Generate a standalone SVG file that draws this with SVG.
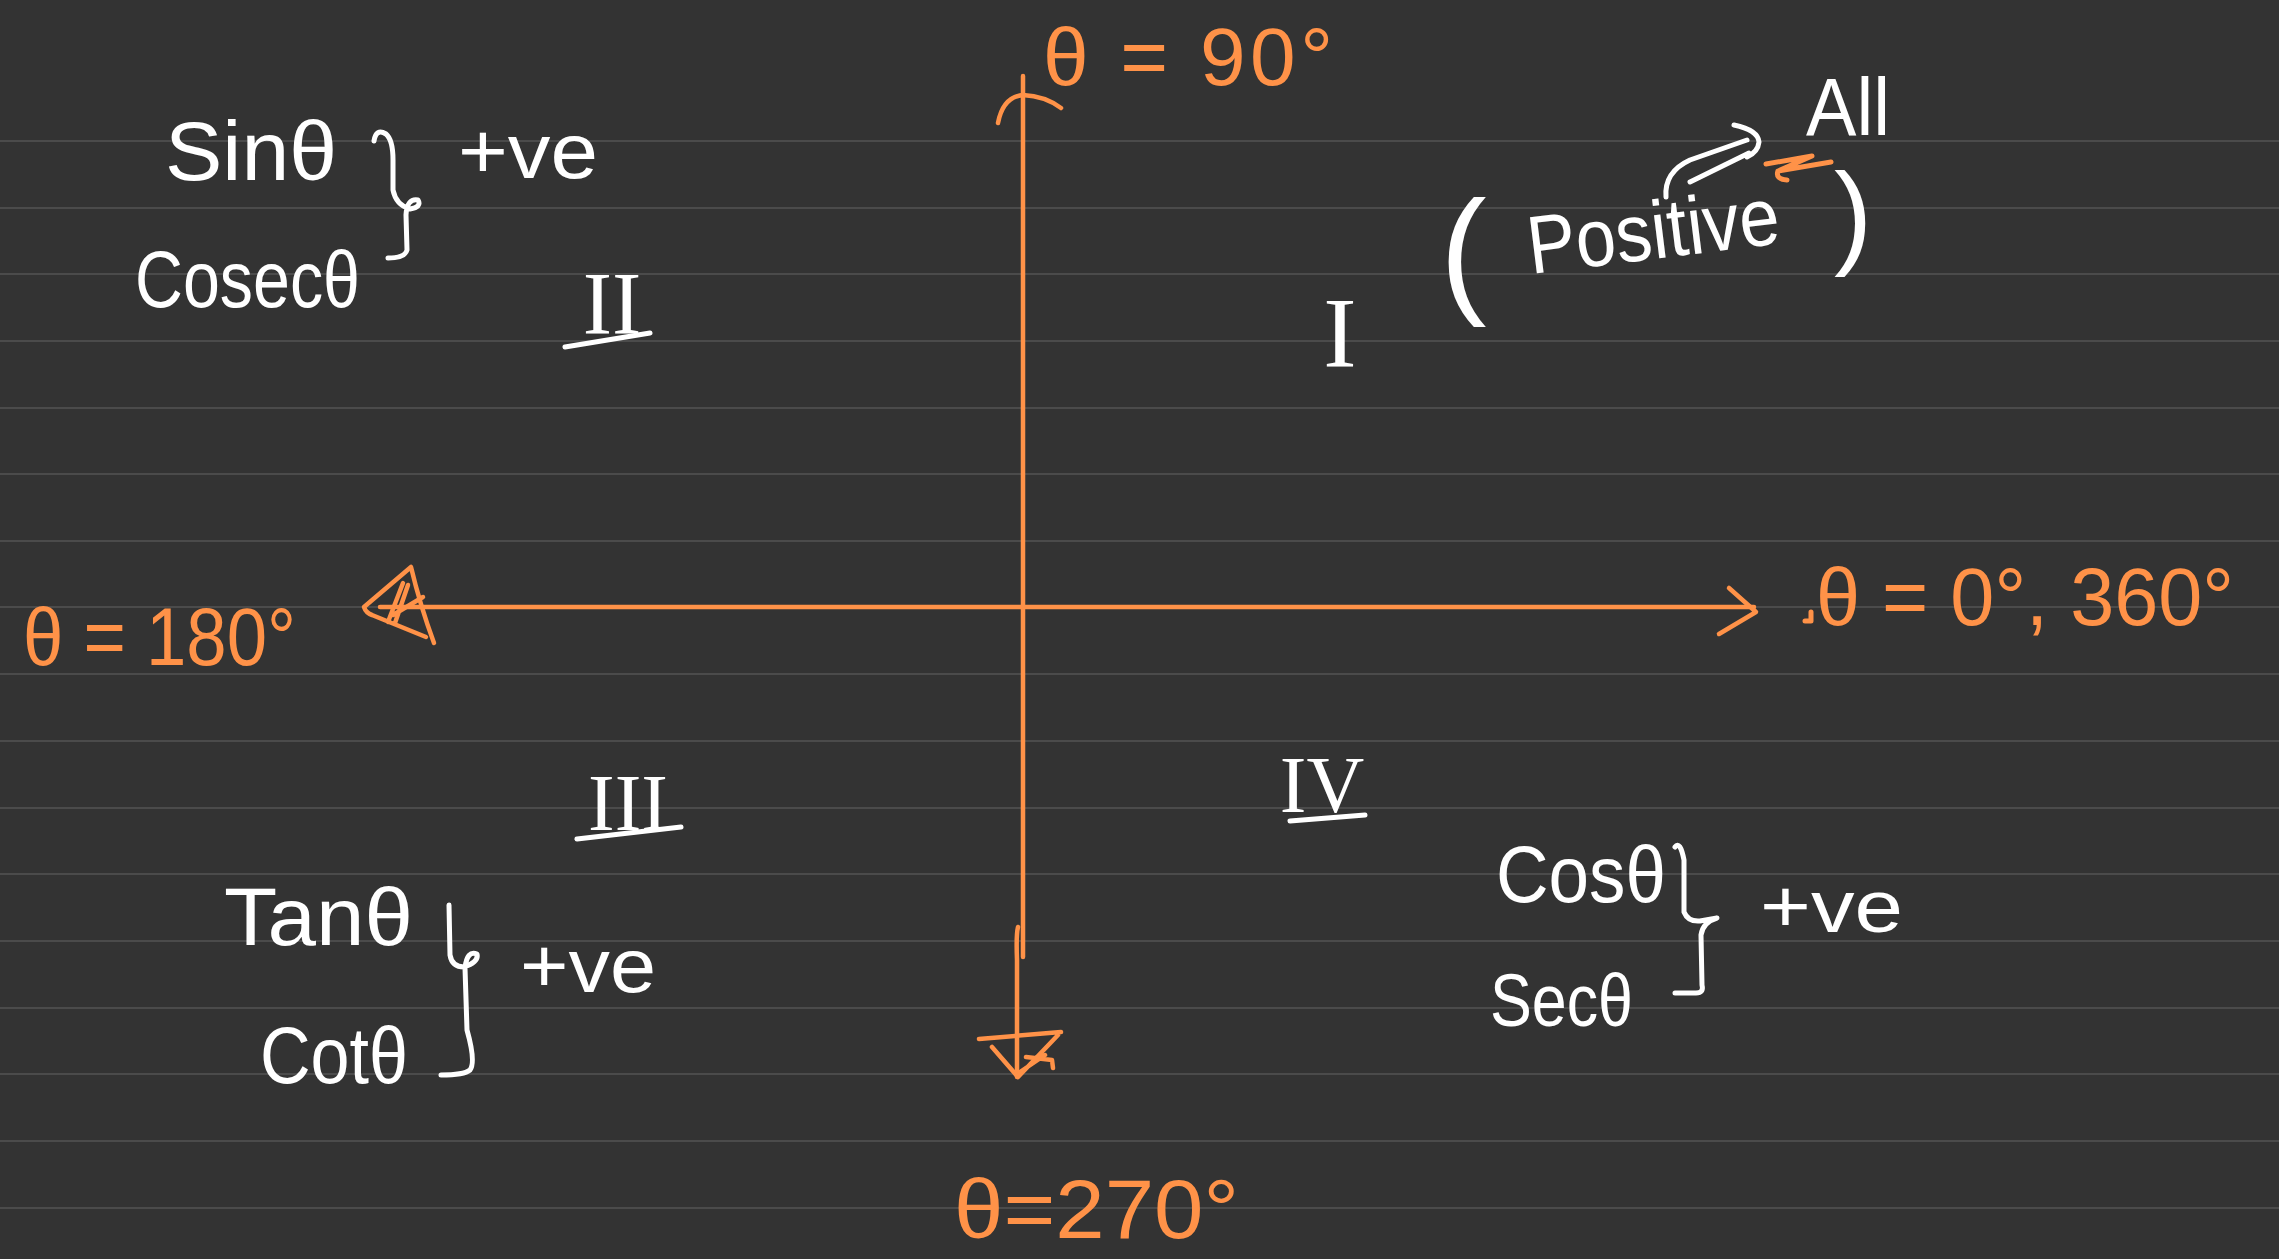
<svg xmlns="http://www.w3.org/2000/svg" width="2279" height="1259" viewBox="0 0 2279 1259">
<style>
.bg{fill:#333333}
.rule{stroke:#4b4b4b;stroke-width:2}
.w{fill:#ffffff;font-family:"Liberation Sans",Arial,sans-serif}
.o{fill:#ff9248;font-family:"Liberation Sans",Arial,sans-serif}
.rn{fill:#ffffff;font-family:"Liberation Serif","Times New Roman",serif}
.ws{fill:none;stroke:#ffffff;stroke-width:5;stroke-linecap:round;stroke-linejoin:round}
.os{fill:none;stroke:#ff9248;stroke-width:5;stroke-linecap:round;stroke-linejoin:round}
.axis{fill:none;stroke:#ff9248;stroke-width:4.5;stroke-linecap:round;stroke-linejoin:round}
</style>
<rect class="bg" x="0" y="0" width="2279" height="1259"/>
<g id="ruling">
<line class="rule" x1="0" y1="141" x2="2279" y2="141"/>
<line class="rule" x1="0" y1="208" x2="2279" y2="208"/>
<line class="rule" x1="0" y1="274" x2="2279" y2="274"/>
<line class="rule" x1="0" y1="341" x2="2279" y2="341"/>
<line class="rule" x1="0" y1="408" x2="2279" y2="408"/>
<line class="rule" x1="0" y1="474" x2="2279" y2="474"/>
<line class="rule" x1="0" y1="541" x2="2279" y2="541"/>
<line class="rule" x1="0" y1="607" x2="2279" y2="607"/>
<line class="rule" x1="0" y1="674" x2="2279" y2="674"/>
<line class="rule" x1="0" y1="741" x2="2279" y2="741"/>
<line class="rule" x1="0" y1="808" x2="2279" y2="808"/>
<line class="rule" x1="0" y1="874" x2="2279" y2="874"/>
<line class="rule" x1="0" y1="941" x2="2279" y2="941"/>
<line class="rule" x1="0" y1="1008" x2="2279" y2="1008"/>
<line class="rule" x1="0" y1="1074" x2="2279" y2="1074"/>
<line class="rule" x1="0" y1="1141" x2="2279" y2="1141"/>
<line class="rule" x1="0" y1="1208" x2="2279" y2="1208"/>
</g>
<g id="connectors">
<path class="axis" d="M380,607 L1754,607"/>
<path class="axis" d="M1729,588 L1756,612 L1719,634"/>
<path class="axis" d="M411,567 L364,607 Q366,613 372,615 L426,637 M411,567 Q420,605 434,643 M388,622 L403,583 M395,623 L408,585 M393,615 L423,597"/>
<path class="axis" d="M1023,76 L1023,957"/>
<path class="axis" d="M998,123 Q1003,97 1023,95 Q1045,96 1061,108"/>
<path class="axis" d="M1018,927 Q1016,935 1017,960 L1017,1077"/>
<path class="axis" d="M979,1039 L1061,1032 M992,1047 L1018,1077 L1058,1035 M1026,1057 L1052,1060 L1053,1068 M1020,1072 L1045,1055"/>
<path class="ws" d="M1666,197 Q1664,172 1690,160 L1747,140 M1690,182 L1749,153 M1734,125 Q1758,130 1759,142 Q1758,152 1747,157"/>
<path class="ws" d="M374,141 Q376,128 386,134 Q393,140 393,160 L393,190 Q396,205 410,209 Q422,207 418,200 Q407,198 406,215 L407,250 Q405,258 388,258"/>
<path class="ws" d="M449,905 L450,955 Q452,967 464,967 Q479,962 477,954 Q467,950 465,968 L467,1030 Q476,1062 470,1070 Q464,1075 441,1075"/>
<path class="ws" d="M1675,847 Q1680,840 1684,860 L1684,912 Q1688,922 1700,921 L1717,918 Q1703,922 1701,935 L1702,985 Q1704,993 1696,993 L1675,993"/>
</g>
<g id="label-sin"><text class="w" x="165" y="180" font-size="84" textLength="172" lengthAdjust="spacingAndGlyphs">Sinθ</text></g>
<g id="label-cosec"><text class="w" x="135" y="307" font-size="80" textLength="225" lengthAdjust="spacingAndGlyphs">Cosecθ</text></g>
<g id="label-pve-1"><text class="w" x="458" y="178" font-size="78" textLength="140" lengthAdjust="spacingAndGlyphs">+ve</text></g>
<g id="quadrant-2"><text class="rn" x="612" y="333" font-size="88" text-anchor="middle">II</text><path class="ws" d="M565,347 L650,333"/></g>
<g id="quadrant-1"><text class="rn" x="1340" y="366" font-size="100" text-anchor="middle">I</text></g>
<g id="label-positive">
<text class="w" x="1440" y="298" font-size="140">(</text>
<text class="w" x="1531" y="274" font-size="82" textLength="253" lengthAdjust="spacingAndGlyphs" transform="rotate(-7 1531 274)">Positive</text>
<text class="w" x="1834" y="253" font-size="115">)</text>
</g>
<g id="label-all"><text class="w" x="1806" y="135" font-size="82" textLength="84" lengthAdjust="spacingAndGlyphs">All</text>
<path class="os" d="M1766,164 L1812,156 L1778,171 L1831,162 M1778,171 Q1775,179 1787,180"/></g>
<g id="label-90"><text class="o" x="1043" y="85" font-size="82" textLength="290">θ = 90°</text></g>
<g id="label-180"><text class="o" x="23" y="665" font-size="82" textLength="273" lengthAdjust="spacingAndGlyphs">θ = 180°</text></g>
<g id="label-0"><path class="os" d="M1811,612 L1811,621 L1805,621"/><text class="o" x="1816" y="625" font-size="82" textLength="418" lengthAdjust="spacingAndGlyphs">θ = 0°, 360°</text></g>
<g id="quadrant-3"><text class="rn" x="628" y="830" font-size="80" text-anchor="middle">III</text><path class="ws" d="M577,839 L681,827"/></g>
<g id="quadrant-4"><text class="rn" x="1322" y="812" font-size="80" text-anchor="middle">IV</text><path class="ws" d="M1290,821 L1365,815"/></g>
<g id="label-tan"><text class="w" x="224" y="945" font-size="82" textLength="189" lengthAdjust="spacingAndGlyphs">Tanθ</text></g>
<g id="label-cot"><text class="w" x="260" y="1083" font-size="80" textLength="148" lengthAdjust="spacingAndGlyphs">Cotθ</text></g>
<g id="label-pve-3"><text class="w" x="520" y="992" font-size="76" textLength="136" lengthAdjust="spacingAndGlyphs">+ve</text></g>
<g id="label-cos"><text class="w" x="1496" y="902" font-size="80" textLength="170" lengthAdjust="spacingAndGlyphs">Cosθ</text></g>
<g id="label-sec"><text class="w" x="1490" y="1026" font-size="74" textLength="143" lengthAdjust="spacingAndGlyphs">Secθ</text></g>
<g id="label-pve-4"><text class="w" x="1760" y="932" font-size="74" textLength="143" lengthAdjust="spacingAndGlyphs">+ve</text></g>
<g id="label-270"><text class="o" x="954" y="1238" font-size="84" textLength="285" lengthAdjust="spacingAndGlyphs">θ=270°</text></g>
</svg>
